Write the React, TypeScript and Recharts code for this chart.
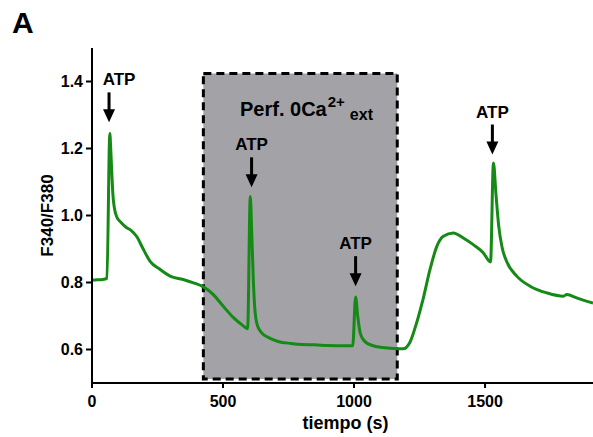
import React from 'react';
import { LineChart, Line, XAxis, YAxis, ReferenceArea, ReferenceDot, Label } from 'recharts';

// Fura-2 ratio trace (time in s, F340/F380)
const time = [
  0, 20, 40, 57, 68, 72, 76, 80, 86, 95, 110, 130, 150, 170, 196, 221, 260, 298, 348, 387,
  425, 463, 501, 540, 575, 594, 604, 610, 616, 622, 630, 645, 680, 710, 760, 800, 850, 900,
  960, 995, 1006, 1014, 1024, 1040, 1070, 1110, 1150, 1187, 1213, 1239, 1263, 1290, 1316,
  1341, 1379, 1417, 1455, 1493, 1521, 1532, 1542, 1552, 1565, 1583, 1621, 1672, 1736, 1799,
  1812, 1850, 1880, 1912,
];
const ratio = [
  0.807, 0.808, 0.809, 0.812, 1.245, 1.19, 1.12, 1.06, 1.02, 0.995, 0.98, 0.965, 0.955,
  0.938, 0.899, 0.864, 0.839, 0.819, 0.809, 0.799, 0.787, 0.764, 0.729, 0.695, 0.672, 0.662,
  1.057, 0.94, 0.8, 0.715, 0.675, 0.652, 0.633, 0.624, 0.618, 0.615, 0.614, 0.612, 0.611,
  0.611, 0.757, 0.7, 0.648, 0.625, 0.612, 0.606, 0.603, 0.602, 0.621, 0.68, 0.749, 0.839,
  0.908, 0.938, 0.948, 0.933, 0.913, 0.889, 0.861, 1.157, 1.06, 0.97, 0.905, 0.862, 0.819,
  0.789, 0.769, 0.759, 0.764, 0.754, 0.746, 0.739,
];

const xTicks = [0, 500, 1000, 1500];
const yTicks = [0.6, 0.8, 1.0, 1.2, 1.4];

// ATP application markers: arrow tip position and label shift
const atpTime = [65, 609, 1006, 1528];
const atpTip = [1.278, 1.084, 0.789, 1.182];
const atpShift = [10, 0, 0, 0];

// Period of Ca2+-free perfusion
const perfStart = 425;
const perfEnd = 1165;
const perfLow = 0.512;
const perfHigh = 1.424;

const data = time.map((t, i) => ({ t, r: ratio[i] }));

const FONT = '"Liberation Sans", Arial, Helvetica, sans-serif';

const AtpMarker = (shift: number) => (props: any) => {
  const { cx, cy } = props;
  return (
    <g>
      <text
        x={cx + shift}
        y={cy - 37}
        textAnchor="middle"
        fontFamily={FONT}
        fontWeight="bold"
        fontSize={17}
        fill="#000"
      >
        ATP
      </text>
      <rect x={cx - 1.5} y={cy - 30} width={3} height={18} fill="#000" />
      <polygon points={`${cx - 6},${cy - 13} ${cx + 6},${cy - 13} ${cx},${cy}`} fill="#000" />
    </g>
  );
};

const PerfLabel = (props: any) => {
  const { cx, cy } = props;
  return (
    <text x={cx} y={cy} fontFamily={FONT} fontWeight="bold" fill="#000" fontSize={20}>
      Perf. 0Ca
      <tspan fontSize={15} dy={-9} dx={1}>2+</tspan>
      <tspan fontSize={16} dy={13} dx={5}>ext</tspan>
    </text>
  );
};

export default function App() {
  return (
    <div style={{ position: 'absolute', left: 0, top: 0, width: 593, height: 437, background: '#fff' }}>
      <div
        style={{
          position: 'absolute',
          left: 12,
          top: 6,
          fontFamily: FONT,
          fontWeight: 'bold',
          fontSize: 30,
          lineHeight: '34px',
          color: '#000',
        }}
      >
        A
      </div>
      <LineChart width={593} height={437} data={data} margin={{ top: 48, right: 0, bottom: 0, left: 0 }}>
        <ReferenceArea
          x1={perfStart}
          x2={perfEnd}
          y1={perfLow}
          y2={perfHigh}
          fill="#a2a2a7"
          fillOpacity={1}
          stroke="#000"
          strokeWidth={3}
          strokeDasharray="8 5"
          ifOverflow="extendDomain"
        />
        <XAxis
          dataKey="t"
          type="number"
          domain={[0, 1912]}
          ticks={xTicks}
          height={54}
          axisLine={{ stroke: '#000', strokeWidth: 2 }}
          tickLine={{ stroke: '#000', strokeWidth: 2 }}
          tickSize={5}
          tickMargin={8}
          tick={{ fill: '#000', fontFamily: FONT, fontWeight: 'bold', fontSize: 16 }}
        >
          <Label
            content={(p: any) => {
              const vb = p.viewBox || {};
              return (
                <text
                  x={vb.x + vb.width / 2 + 3}
                  y={429}
                  textAnchor="middle"
                  fontFamily={FONT}
                  fontWeight="bold"
                  fontSize={18}
                  fill="#000"
                >
                  tiempo (s)
                </text>
              );
            }}
          />
        </XAxis>
        <YAxis
          type="number"
          domain={[0.5, 1.5]}
          ticks={yTicks}
          width={92}
          axisLine={{ stroke: '#000', strokeWidth: 2 }}
          tickLine={{ stroke: '#000', strokeWidth: 2 }}
          tickSize={6}
          tickMargin={3}
          tickFormatter={(v: number) => v.toFixed(1)}
          tick={{ fill: '#000', fontFamily: FONT, fontWeight: 'bold', fontSize: 16 }}
        >
          <Label
            content={(p: any) => {
              const vb = p.viewBox || {};
              const cy = vb.y + vb.height / 2;
              return (
                <text
                  x={47}
                  y={cy}
                  transform={`rotate(-90, 47, ${cy})`}
                  textAnchor="middle"
                  dominantBaseline="central"
                  fontFamily={FONT}
                  fontWeight="bold"
                  fontSize={17}
                  fill="#000"
                >
                  F340/F380
                </text>
              );
            }}
          />
        </YAxis>
        <Line
          dataKey="r"
          type="monotone"
          stroke="#168a16"
          strokeWidth={3}
          dot={false}
          activeDot={false}
          isAnimationActive={false}
        />
        {atpTime.map((t, i) => (
          <ReferenceDot key={t} x={t} y={atpTip[i]} r={0} shape={AtpMarker(atpShift[i])} />
        ))}
        <ReferenceDot x={565} y={1.296} r={0} shape={PerfLabel} />
      </LineChart>
    </div>
  );
}
